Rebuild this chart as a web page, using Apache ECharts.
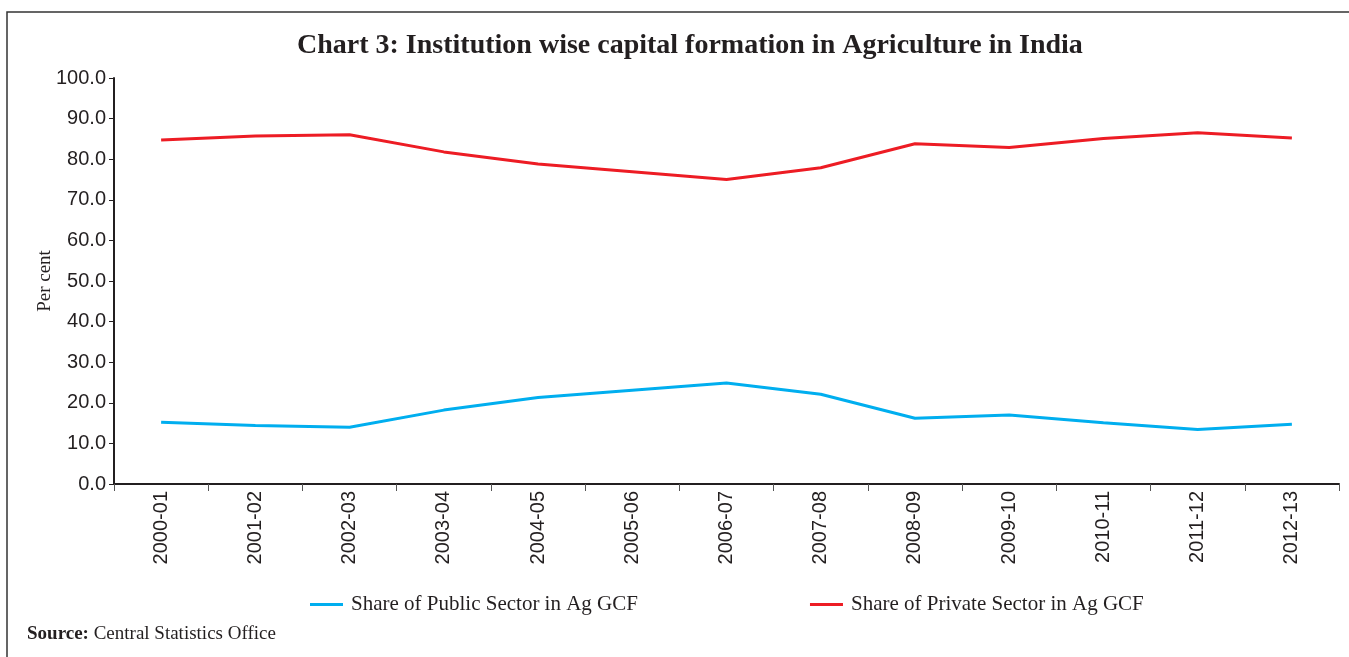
<!DOCTYPE html>
<html><head><meta charset="utf-8">
<script src="https://cdn.jsdelivr.net/npm/echarts@6/dist/echarts.min.js"></script>
<style>html,body{margin:0;padding:0;background:#fff}#c{width:1349px;height:657px}</style>
</head><body><div id="c"></div>
<script>
const categories = ['2000-01','2001-02','2002-03','2003-04','2004-05','2005-06','2006-07','2007-08','2008-09','2009-10','2010-11','2011-12','2012-13'];
const publicShare = [15.2,14.4,14.0,18.2,21.3,23.1,24.9,22.1,16.2,17.0,15.1,13.4,14.7];
const privateShare = [84.7,85.7,86.0,81.8,78.8,76.9,75.0,77.9,83.8,82.9,85.1,86.5,85.2];
const seriesNames = ['Share of Public Sector in Ag GCF','Share of Private Sector in Ag GCF'];

const chart = echarts.init(document.getElementById('c'));
const dark = '#231F20';
chart.setOption({
  animation: false,
  backgroundColor: '#fff',
  title: {
    text: 'Chart 3: Institution wise capital formation in Agriculture in India',
    left: 292, top: 27,
    textStyle: {fontFamily: 'Liberation Serif', fontWeight: 'bold', fontSize: 28, color: dark}
  },
  legend: {
    left: 305, top: 589,
    itemWidth: 33, itemHeight: 3, itemGap: 172,
    icon: 'rect',
    textStyle: {fontFamily: 'Liberation Serif', fontSize: 21, color: dark, padding: [0,0,0,3]},
    data: seriesNames
  },
  grid: {left: 114, right: 10, top: 78, bottom: 173, containLabel: false},
  xAxis: {
    type: 'category', data: categories, boundaryGap: true,
    axisLine: {lineStyle: {color: dark, width: 2}},
    axisTick: {show: true, alignWithLabel: false, length: 7, lineStyle: {color: '#555', width: 1}},
    axisLabel: {rotate: 90, fontFamily: 'Liberation Sans', fontSize: 20, color: dark, margin: 7}
  },
  yAxis: {
    type: 'value', min: 0, max: 100, interval: 10,
    name: 'Per cent', nameLocation: 'middle', nameGap: 59, nameRotate: 90, nameMoveOverlap: false,
    nameTextStyle: {fontFamily: 'Liberation Serif', fontSize: 19, color: dark},
    axisLine: {show: true, lineStyle: {color: dark, width: 2}},
    axisTick: {show: true, inside: false, length: 5, lineStyle: {color: dark}},
    splitLine: {show: false},
    axisLabel: {fontFamily: 'Liberation Sans', fontSize: 20, color: dark, margin: 8, formatter: v => v.toFixed(1)}
  },
  series: [
    {name: seriesNames[0], type: 'line', data: publicShare, symbol: 'none', lineStyle: {color: '#00AEEF', width: 3}, itemStyle: {color: '#00AEEF'}},
    {name: seriesNames[1], type: 'line', data: privateShare, symbol: 'none', lineStyle: {color: '#ED1C24', width: 3}, itemStyle: {color: '#ED1C24'}}
  ],
  graphic: [
    {type: 'rect', shape: {x: 7, y: 12, width: 1350, height: 660}, style: {fill: 'none', stroke: '#333', lineWidth: 1.5}, silent: true},
    {type: 'text', left: 27, top: 625, style: {
      text: '{b|Source:} Central Statistics Office',
      rich: {b: {fontFamily: 'Liberation Serif', fontWeight: 'bold', fontSize: 19, fill: dark}},
      fontFamily: 'Liberation Serif', fontSize: 19, fill: dark
    }}
  ]
});
</script></body></html>
